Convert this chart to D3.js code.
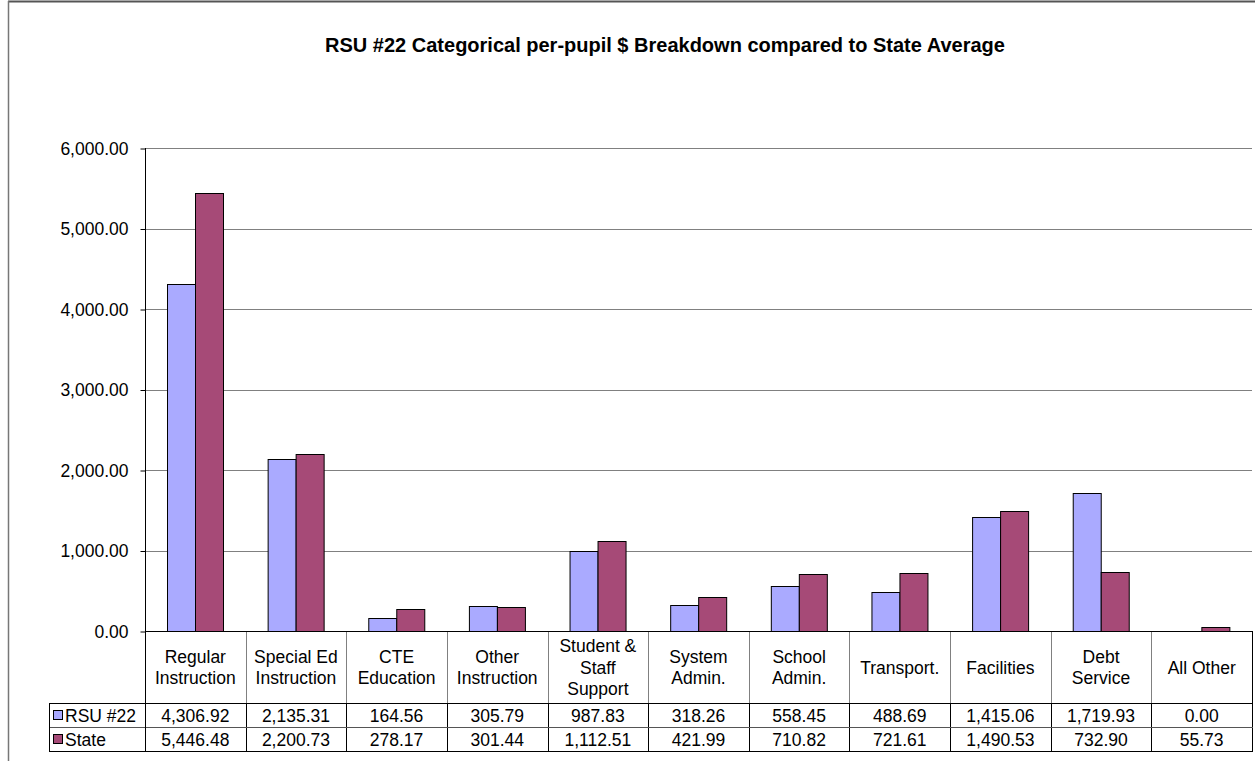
<!DOCTYPE html>
<html>
<head>
<meta charset="utf-8">
<script src="https://cdn.jsdelivr.net/npm/d3@7"></script>
<style>
  html, body { margin: 0; padding: 0; background: #fff; }
  svg { display: block; font-family: "Liberation Sans", Arial, sans-serif; }
</style>
</head>
<body>
<svg id="chart" width="1255" height="761"></svg>
<script>
// Per-pupil spending by category
const categories = [
  ["Regular", "Instruction"],
  ["Special Ed", "Instruction"],
  ["CTE", "Education"],
  ["Other", "Instruction"],
  ["Student &", "Staff", "Support"],
  ["System", "Admin."],
  ["School", "Admin."],
  ["Transport."],
  ["Facilities"],
  ["Debt", "Service"],
  ["All Other"]
];
const seriesNames = ["RSU #22", "State"];
const rsuValues = [4306.92, 2135.31, 164.56, 305.79, 987.83, 318.26, 558.45, 488.69, 1415.06, 1719.93, 0.00];
const stateValues = [5446.48, 2200.73, 278.17, 301.44, 1112.51, 421.99, 710.82, 721.61, 1490.53, 732.90, 55.73];
const yTicks = [0, 1000, 2000, 3000, 4000, 5000, 6000];
const titleText = "RSU #22 Categorical per-pupil $ Breakdown compared to State Average";

const colors = ["#AAAAFF", "#A64A77"];
const series = [rsuValues, stateValues];
const FS = 17.5;

const svg = d3.select("#chart");

// Outer frame
svg.append("line").attr("x1", 8).attr("x2", 1255).attr("y1", 1.5).attr("y2", 1.5)
  .attr("stroke", "#555").attr("stroke-width", 2);
svg.append("line").attr("x1", 8.5).attr("x2", 8.5).attr("y1", 1).attr("y2", 761)
  .attr("stroke", "#777").attr("stroke-width", 1.5);

// Title
svg.append("text").attr("x", 665).attr("y", 52).attr("text-anchor", "middle")
  .attr("font-size", 20).attr("font-weight", "bold").attr("fill", "#000")
  .text(titleText);

const plotLeft = 145, plotRight = 1252, plotTop = 148, plotBottom = 631;
const keys = categories.map((c, i) => i);

const x = d3.scaleBand().domain(keys).range([plotLeft, plotRight]).padding(0);
const xs = d3.scaleBand().domain([0, 1]).range([0.22 * x.bandwidth(), 0.78 * x.bandwidth()]).padding(0);
const y = d3.scaleLinear().domain([0, 6000]).range([plotBottom, plotTop]);

// Gridlines
svg.append("g").selectAll("line").data(yTicks.filter(d => d > 0)).join("line")
  .attr("x1", plotLeft).attr("x2", plotRight)
  .attr("y1", d => Math.round(y(d)) + 0.5).attr("y2", d => Math.round(y(d)) + 0.5)
  .attr("stroke", "#808080").attr("stroke-width", 1);

// Y axis
const yAxis = d3.axisLeft(y).tickValues(yTicks).tickSize(5).tickPadding(12)
  .tickFormat(d3.format(",.2f"));
const yg = svg.append("g").attr("transform", `translate(${plotLeft + 0.5},0.5)`).call(yAxis);
yg.select(".domain").remove();
yg.selectAll(".tick line").attr("stroke", "#000");
yg.selectAll(".tick text").attr("font-size", FS).attr("fill", "#000")
  .attr("font-family", "Liberation Sans, Arial, sans-serif");

// Bars
const groups = svg.append("g").selectAll("g").data(keys).join("g")
  .attr("transform", d => `translate(${x(d)},0)`);
groups.selectAll("rect").data(i => series.map((s, k) => ({ k, v: s[i] })).filter(d => d.v > 0)).join("rect")
  .attr("x", d => Math.round(xs(d.k)) + 0.5)
  .attr("width", Math.round(xs.bandwidth()))
  .attr("y", d => Math.round(y(d.v)) + 0.5)
  .attr("height", d => plotBottom - Math.round(y(d.v)))
  .attr("fill", d => colors[d.k])
  .attr("stroke", "#000").attr("stroke-width", 1);

// Data table
const headerBottom = 703, rowH = 24, tableLeft = 49;
const rowTops = [headerBottom, headerBottom + rowH];
const tableBottom = headerBottom + 2 * rowH;

// Category header cells
const hdr = svg.append("g");
keys.forEach(i => {
  const lines = categories[i];
  const cx = x(i) + x.bandwidth() / 2;
  const mid = (plotBottom + headerBottom) / 2;
  const lh = 21.5;
  const t = hdr.append("text").attr("text-anchor", "middle").attr("font-size", FS).attr("fill", "#000");
  lines.forEach((ln, j) => {
    t.append("tspan").attr("x", cx)
      .attr("y", mid + (j - (lines.length - 1) / 2) * lh + 6.5)
      .text(ln);
  });
});
// Header separators (gray)
svg.append("g").selectAll("line").data(keys.slice(1)).join("line")
  .attr("x1", d => Math.round(x(d)) + 0.5).attr("x2", d => Math.round(x(d)) + 0.5)
  .attr("y1", plotBottom).attr("y2", headerBottom)
  .attr("stroke", "#808080");
svg.append("line").attr("x1", plotRight + 0.5).attr("x2", plotRight + 0.5)
  .attr("y1", plotBottom).attr("y2", tableBottom).attr("stroke", "#000");

// Value rows
series.forEach((s, k) => {
  const top = rowTops[k];
  const g = svg.append("g");
  g.selectAll("text").data(s).join("text")
    .attr("x", (d, i) => x(i) + x.bandwidth() / 2)
    .attr("y", top + rowH / 2 + 6.5)
    .attr("text-anchor", "middle").attr("font-size", FS).attr("fill", "#000")
    .text(d => d3.format(",.2f")(d));
  // Legend key and series name
  g.append("rect").attr("x", 53.5).attr("y", top + 7.5).attr("width", 9).attr("height", 9)
    .attr("fill", colors[k]).attr("stroke", "#000");
  g.append("text").attr("x", 65).attr("y", top + rowH / 2 + 6.5)
    .attr("font-size", FS).attr("fill", "#000").text(seriesNames[k]);
});
// Value row separators (black)
svg.append("g").selectAll("line").data(keys.slice(1)).join("line")
  .attr("x1", d => Math.round(x(d)) + 0.5).attr("x2", d => Math.round(x(d)) + 0.5)
  .attr("y1", headerBottom).attr("y2", tableBottom)
  .attr("stroke", "#000");
// Horizontal table lines
svg.append("line").attr("x1", tableLeft).attr("x2", plotRight + 1)
  .attr("y1", headerBottom + 0.5).attr("y2", headerBottom + 0.5).attr("stroke", "#000");
svg.append("line").attr("x1", tableLeft).attr("x2", plotRight + 1)
  .attr("y1", headerBottom + rowH + 0.5).attr("y2", headerBottom + rowH + 0.5).attr("stroke", "#555");
svg.append("line").attr("x1", tableLeft).attr("x2", plotRight + 1)
  .attr("y1", tableBottom + 0.5).attr("y2", tableBottom + 0.5).attr("stroke", "#000");
svg.append("line").attr("x1", tableLeft + 0.5).attr("x2", tableLeft + 0.5)
  .attr("y1", headerBottom).attr("y2", tableBottom).attr("stroke", "#000");
// Category axis line along zero
svg.append("line").attr("x1", plotLeft).attr("x2", plotRight + 1)
  .attr("y1", plotBottom + 0.5).attr("y2", plotBottom + 0.5).attr("stroke", "#000");
// Value axis line, extended through the table
svg.append("line").attr("x1", plotLeft + 0.5).attr("x2", plotLeft + 0.5)
  .attr("y1", plotTop).attr("y2", tableBottom).attr("stroke", "#000");
</script>
</body>
</html>
